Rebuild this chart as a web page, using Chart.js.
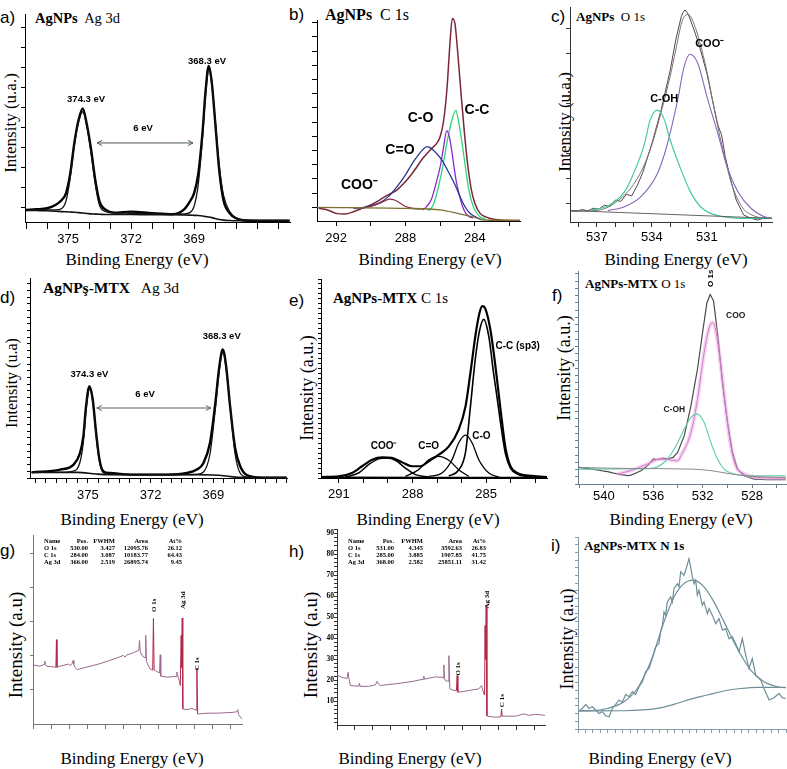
<!DOCTYPE html>
<html>
<head>
<meta charset="utf-8">
<title>XPS spectra of AgNPs and AgNPs-MTX</title>
<script src="https://cdn.jsdelivr.net/npm/chart.js@4.4.1/dist/chart.umd.min.js"></script>
<style>
  html, body { margin: 0; padding: 0; background: #fff; }
  body { position: relative; width: 787px; height: 769px; overflow: hidden; }
  canvas { position: absolute; }
  .txt { position: absolute; white-space: nowrap; color: #000; line-height: 1; }
  .let { font: 17px "Liberation Sans", Arial, sans-serif; transform: translateY(-50%); }
  .ttl { font-family: "Liberation Serif", "Times New Roman", serif; transform: translateY(-50%); }
  .ax { font-family: "Liberation Serif", "Times New Roman", serif; transform: translate(-50%, -50%); }
  .yax { font-family: "Liberation Serif", "Times New Roman", serif; transform: translate(-50%, -50%) rotate(-90deg); }
  .tab { position: absolute; font: bold 6.5px "Liberation Serif", serif; white-space: nowrap; line-height: 1; }
</style>
</head>
<body>

<div class="txt let" style="left:0;top:18px">a)</div>
<div class="txt let" style="left:289px;top:15px">b)</div>
<div class="txt let" style="left:551px;top:17px">c)</div>
<div class="txt let" style="left:0;top:298px">d)</div>
<div class="txt let" style="left:289px;top:301px">e)</div>
<div class="txt let" style="left:552px;top:296px">f)</div>
<div class="txt let" style="left:0;top:551px">g)</div>
<div class="txt let" style="left:289px;top:552px">h)</div>
<div class="txt let" style="left:551px;top:546px">i)</div>

<div class="txt ttl" style="left:35px;top:18px;font-size:14.5px"><b>AgNPs</b>&nbsp; Ag 3d</div>
<div class="txt ttl" style="left:325px;top:15px;font-size:16px"><b>AgNPs</b>&nbsp; C 1s</div>
<div class="txt ttl" style="left:576px;top:16px;font-size:13px"><b>AgNPs</b>&nbsp; O 1s</div>
<div class="txt ttl" style="left:43px;top:288px;font-size:15.5px"><b>AgNPş-MTX</b>&nbsp;&nbsp; Ag 3d</div>
<div class="txt ttl" style="left:333px;top:298px;font-size:15px"><b>AgNPs-MTX</b> C 1s</div>
<div class="txt ttl" style="left:585px;top:283px;font-size:13px"><b>AgNPs-MTX</b> O 1s</div>
<div class="txt ttl" style="left:584px;top:545px;font-size:13px"><b>AgNPs-MTX N 1s</b></div>

<div class="txt yax" style="left:10px;top:123px;font-size:17px">Intensity (u.a.)</div>
<div class="txt yax" style="left:564px;top:122px;font-size:17px">Intensity (u.a.)</div>
<div class="txt yax" style="left:12px;top:383px;font-size:16px">Intensity (u.a)</div>
<div class="txt yax" style="left:307px;top:388px;font-size:18px">Intensity (a.u.)</div>
<div class="txt yax" style="left:564px;top:368px;font-size:18px">Intensity (a.u.)</div>
<div class="txt yax" style="left:15px;top:645px;font-size:19px">Intensity (a.u)</div>
<div class="txt yax" style="left:310px;top:645px;font-size:19px">Intensity (a.u)</div>
<div class="txt yax" style="left:567px;top:639px;font-size:18px">Intensity (a.u)</div>

<div class="txt ax" style="left:137px;top:259px;font-size:17px">Binding Energy (eV)</div>
<div class="txt ax" style="left:430px;top:259px;font-size:17px">Binding Energy (eV)</div>
<div class="txt ax" style="left:676px;top:259px;font-size:17px">Binding Energy (eV)</div>
<div class="txt ax" style="left:132px;top:519px;font-size:17px">Binding Energy (eV)</div>
<div class="txt ax" style="left:428px;top:519px;font-size:17px">Binding Energy (eV)</div>
<div class="txt ax" style="left:681px;top:519px;font-size:17px">Binding Energy (eV)</div>
<div class="txt ax" style="left:132px;top:758px;font-size:17px">Binding Energy (eV)</div>
<div class="txt ax" style="left:410px;top:758px;font-size:17px">Binding Energy (eV)</div>
<div class="txt ax" style="left:660px;top:758px;font-size:17px">Binding Energy (eV)</div>

<canvas id="ca"></canvas>
<canvas id="cb"></canvas>
<canvas id="cc"></canvas>
<canvas id="cd"></canvas>
<canvas id="ce"></canvas>
<canvas id="cf"></canvas>
<canvas id="cg"></canvas>
<canvas id="ch"></canvas>
<canvas id="ci"></canvas>

<script>
// ---------- a) AgNPs Ag 3d ----------
const aE    = [377, 376.5, 376, 375.6, 375.3, 375.1, 374.9, 374.7, 374.5, 374.3, 374.1, 373.9, 373.7, 373.5, 373.2, 372.8, 372, 371, 370, 369.5, 369.2, 369, 368.8, 368.6, 368.45, 368.3, 368.15, 368, 367.8, 367.6, 367.3, 367, 366.5, 366, 365, 364.45];
const aRaw  = [5.8, 6.1, 6.6, 8.2, 10.6, 13.8, 23, 38, 49, 54.6, 46.6, 34.6, 20, 9.8, 5.8, 4.5, 5.0, 4.2, 3.7, 5.8, 9.8, 13.8, 23, 42.6, 63, 75, 66.7, 49, 25, 10.6, 4.2, 1.8, 0.6, 0.6, 0.6, 0.6];
const aFit  = [5.8, 5.8, 5.8, 5.8, 6.5, 10, 21, 37, 48, 53, 46, 33, 18, 8, 5, 4.4, 4.2, 4.0, 3.8, 3.9, 4.5, 7.5, 18, 40, 61, 73, 66, 50, 27, 13, 5, 2, 1, 0.8, 0.8, 0.8];
const aBase = [5.6, 5.5, 5.4, 5.2, 5.0, 4.9, 4.8, 4.7, 4.5, 4.3, 4.1, 3.9, 3.8, 3.7, 3.6, 3.6, 3.6, 3.5, 3.5, 3.4, 3.3, 3.2, 3.1, 2.9, 2.6, 2.4, 2.1, 1.7, 1.2, 0.9, 0.7, 0.6, 0.6, 0.6, 0.6, 0.6];

// ---------- b) AgNPs C 1s ----------
const bE    = [293, 292.5, 292, 291.5, 291, 290.5, 290, 289.5, 289, 288.5, 288, 287.5, 287, 286.5, 286.2, 286, 285.8, 285.6, 285.45, 285.3, 285.15, 285, 284.8, 284.6, 284.4, 284.2, 284, 283.7, 283.3, 283, 282.5, 281.4];
const bSum  = [6.3, 5.5, 3.8, 3.5, 4.6, 6.3, 8, 10.4, 13, 15.4, 19.6, 25, 31.2, 36, 38.6, 42, 50, 66.8, 86.7, 100.8, 98.3, 85, 63.5, 43.6, 27, 15.4, 8.8, 3.8, 1.8, 1.0, 0.5, 0.2];
const bCooE = [290.5, 290, 289.5, 289.2, 288.9, 288.6, 288.3, 288, 287.5, 287];
const bCoo  = [6.5, 7.2, 8.8, 10, 10.9, 10.3, 8.8, 7.2, 6.2, 6.0];
const bCdoE = [291, 290.5, 290, 289.5, 289, 288.5, 288, 287.5, 287, 286.77, 286.5, 286.2, 285.9, 285.5, 285.14, 284.85, 284.57, 284.3, 284, 283.6];
const bCdo  = [6.3, 6.6, 7.5, 9, 12, 17, 23, 30, 35.5, 37, 36, 33.5, 30.3, 24, 17.9, 12, 7.1, 4, 2.2, 0.5];
const bCoE  = [287, 286.8, 286.5, 286.2, 286, 285.8, 285.62, 285.45, 285.3, 285.1, 284.9, 284.7, 284.5, 284.3, 284.1];
const bCo   = [5.5, 7, 11, 20, 27, 37, 45, 41, 33, 21, 13, 7, 3.5, 2, 1.5];
const bCcE  = [286.7, 286.4, 286.1, 285.85, 285.62, 285.33, 285.1, 284.95, 284.76, 284.55, 284.38, 284.2, 284, 283.7, 283.4];
const bCc   = [5, 8, 17, 27, 38.6, 50, 55, 50, 40, 27, 17, 10, 5.5, 2, 1];
const bBgE  = [293.1, 288, 286, 285, 284, 283.5, 281.4];
const bBg   = [6.8, 6.3, 5.5, 3.8, 1.8, 0.5, 0.3];

// ---------- c) AgNPs O 1s ----------
const cRawE = [538.4, 538.1, 537.8, 537.5, 537.2, 536.9, 536.6, 536.3, 536, 535.7, 535.4, 535.1, 534.8, 534.5, 534, 533.5, 533, 532.7, 532.4, 532.3, 532.2, 532.1, 532, 531.7, 531.4, 531, 530.7, 530.4, 530.2, 530, 529.7, 529.4, 529, 528.6, 528.2, 527.8, 527.45];
const cRaw  = [5.3, 5.0, 5.8, 5.2, 6.4, 6.0, 7.8, 7.2, 10.2, 9.6, 12.8, 12.2, 17, 23, 36.6, 52, 70.7, 84.7, 95.5, 97.5, 98.6, 97.8, 96.3, 89.3, 81.6, 69, 56.7, 45, 40.5, 30.4, 19.5, 10.2, 3.3, 1.7, 0.9, 2.2, 1.7];
const cFitE = [538.4, 537, 536.5, 536, 535.5, 535, 534.5, 534, 533.5, 533, 532.7, 532.4, 532.2, 532, 531.7, 531.4, 531, 530.7, 530.4, 530, 529.7, 529.4, 529, 528.6, 528.2, 527.8, 527.45];
const cFit  = [5.0, 5.4, 6.5, 9, 12.5, 17.5, 25, 36, 51, 68, 80, 92, 96, 96.5, 92, 84, 70, 57, 44, 29, 19, 12, 6, 3.5, 2.2, 1.8, 1.6];
const cCooE = [536.4, 535.5, 534.6, 533.7, 533.2, 532.6, 532.25, 531.93, 531.5, 531.0, 530.4, 529.9, 529.3, 528.6, 527.9, 527.45];
const cCoo  = [5.3, 7.1, 11.8, 22.6, 35, 56.7, 72, 78, 73.8, 58.3, 41, 25.7, 14, 6.4, 2.5, 1.7];
const cOhE  = [537.35, 536.4, 535.5, 535.0, 534.4, 534.1, 533.71, 533.35, 533.0, 532.4, 531.9, 531.35, 530.8, 530.1, 529.2, 527.45];
const cOh   = [5.6, 7.4, 14, 22.6, 36.6, 47.4, 52, 48.2, 38, 24, 14, 7.1, 4, 2.5, 1.7, 1.7];
const cBgE  = [538.4, 527.45];
const cBg   = [5.3, 1.7];

// ---------- d) AgNPs-MTX Ag 3d ----------
const dE    = [377.68, 376.32, 375.68, 375.37, 375.21, 375.08, 374.92, 374.76, 374.6, 374.44, 374.25, 373.93, 372.82, 371.23, 370.27, 369.79, 369.47, 369.16, 368.92, 368.71, 368.55, 368.39, 368.2, 367.96, 367.72, 367.4, 366.69, 365.5];
const dRaw  = [2.8, 4.2, 6.7, 12.5, 20.9, 36, 45.9, 39, 22.5, 9.2, 3.3, 2.5, 1.7, 1.7, 2.5, 4.2, 7.5, 17.5, 36, 56, 64.3, 56, 36, 15, 6, 1.5, 0.2, 0.2];
const dFit  = [2.8, 2.8, 3.5, 8, 18, 34, 44.5, 38, 21, 8, 2.5, 1.8, 1.7, 1.7, 1.7, 1.8, 3, 12, 33, 54, 63, 55, 36, 12, 2.5, 0.5, 0.3, 0.3];
const dBgE  = [377.68, 375.5, 374.6, 374.0, 369.8, 369.0, 368.4, 367.8, 365.5];
const dBg   = [2.8, 2.8, 2.0, 1.7, 1.7, 1.5, 1.0, 0.3, 0.0];

// ---------- e) AgNPs-MTX C 1s ----------
const eSumE = [291.69, 291.01, 290.47, 290.06, 289.65, 289.24, 288.84, 288.43, 288.02, 287.68, 287.34, 286.93, 286.52, 286.12, 285.84, 285.64, 285.44, 285.27, 285.16, 285.03, 284.82, 284.62, 284.41, 284.21, 284.01, 283.73, 283.46, 282.9, 282.52];
const eSum  = [0.5, 0.8, 2.5, 5.9, 9.2, 10.4, 10.1, 7.9, 5.9, 5.9, 8.4, 11.7, 15.9, 24.3, 36, 52.9, 71.3, 83, 86.4, 85, 74, 56, 34, 15, 6, 2.5, 1.5, 0.8, 0.5];
const eCcE  = [286.52, 286.12, 285.84, 285.64, 285.44, 285.27, 285.1, 284.89, 284.69, 284.55, 284.37, 284.21, 284.01, 283.73, 283.46, 282.52];
const eCc   = [1, 4, 13, 36, 60, 74, 79.7, 71, 52, 40, 24, 12, 5, 2, 1, 0.3];
const eCoE  = [287.34, 286.8, 286.39, 286.12, 285.84, 285.57, 285.3, 284.89, 284.48];
const eCo   = [0.8, 2.5, 9.2, 17.6, 21.5, 17.6, 9.2, 2.5, 0.5];
const eCdoE = [288.29, 287.75, 287.34, 286.93, 286.52, 286.12, 285.71];
const eCdo  = [0.8, 4.2, 9.2, 10.9, 8.9, 4.2, 0.8];
const eCooE = [290.74, 290.2, 289.79, 289.38, 289.04, 288.7, 288.29, 287.88, 287.34];
const eCoo  = [0.5, 2.5, 6.7, 9.6, 10, 8.9, 5, 1.7, 0.5];
const eBgE  = [291.73, 282.52];
const eBg   = [0.4, 0.2];

// ---------- f) AgNPs-MTX O 1s ----------
const fRawE = [542.06, 541.04, 540.5, 540.0, 539.69, 539.3, 538.88, 538.5, 538.07, 537.8, 537.27, 537.0, 536.46, 536.0, 535.65, 535.2, 534.84, 534.4, 534.03, 533.49, 532.95, 532.42, 532.01, 531.66, 531.39, 531.12, 530.8, 530.4, 529.99, 529.59, 529.18, 528.64, 527.83, 526.75, 525.27];
const fRaw  = [7.8, 7, 6.6, 6.0, 5.8, 5.2, 4.7, 4.3, 3.9, 4.2, 5.5, 6.2, 8.6, 11.8, 11.4, 12.2, 11.7, 12.5, 14.8, 22.7, 36.7, 54, 71, 85, 89, 86, 71, 47.7, 29, 14.8, 7, 3.9, 2.3, 2, 2];
const fCooE = [538.88, 537.81, 536.46, 535.52, 534.71, 534.03, 533.76, 532.95, 532.42, 531.88, 531.47, 531.2, 530.93, 530.53, 530.13, 529.72, 529.32, 528.64, 527.56, 525.27];
const fCoo  = [4.7, 6.3, 9.4, 11.7, 11.4, 10.9, 13.3, 24.2, 39.8, 61.7, 73.4, 75.8, 71.9, 55.5, 35.2, 18, 8.6, 4.7, 3.1, 2.7];
const fOhE  = [542.06, 536.19, 535.11, 534.3, 533.49, 532.95, 532.42, 531.88, 531.34, 530.8, 530.26, 529.45, 528.64, 525.27];
const fOh   = [7, 7.3, 10.2, 16.4, 25.8, 31.3, 32.8, 28.9, 19.5, 11.7, 7, 4.7, 3.9, 3.9];
const fBgE  = [542.06, 538.07, 532.95, 531.34, 529.72, 527.56, 525.27];
const fBg   = [7.8, 7.3, 7, 6.3, 4.7, 3.4, 3.1];

// ---------- g) AgNPs survey ----------
const gE = [1203, 1165, 1140, 1137, 1134, 1128, 1081, 1075, 1072, 1069, 1053, 1006, 993, 985, 979, 975, 969, 956, 829, 735, 698, 689, 679, 642, 612, 608, 604, 595, 577, 573, 569, 549, 534, 530, 526, 520, 496, 492, 489, 455, 403, 399, 394, 386, 380, 375, 372, 369, 366, 343, 315, 306, 291, 287, 283, 231, 156, 81, 63, 59, 54, 35];
const gI = [31.3, 30.6, 31.5, 33.3, 31.5, 30.6, 30.1, 30, 44.6, 30, 30.6, 31.7, 31, 31.9, 33.6, 31.5, 30, 28.8, 31.9, 34.9, 36.3, 35.4, 36.5, 37.7, 38.9, 44.2, 38.6, 36.3, 35, 46.9, 33, 29.2, 28.5, 55.8, 28.5, 28.3, 27, 36.6, 25.3, 24.8, 25.2, 27.5, 25.5, 23, 20.4, 46.9, 30, 56.1, 8, 7.6, 8.3, 7.8, 7.4, 29.6, 5.3, 5.7, 5.8, 6.2, 6.5, 7.6, 4.8, 2.7];
const gTable = [
  ['Name', 'Pos.', 'FWHM', 'Area', 'At%'],
  ['O 1s', '530.00', '3.427', '12095.76', '26.12'],
  ['C 1s', '284.00', '3.087', '10183.77', '64.43'],
  ['Ag 3d', '366.00', '2.519', '26895.74', '9.45']
];

// ---------- h) AgNPs-MTX survey ----------
const hE = [1200, 1172, 1144, 1138, 1133, 1125, 1079, 1075, 1071, 1023, 986, 976, 967, 958, 874, 781, 720, 716, 712, 688, 651, 614, 608, 604, 601, 595, 580, 576, 571, 548, 534, 530, 526, 521, 465, 409, 394, 381, 377, 374, 372, 368, 364, 361, 316, 286, 282, 279, 204, 158, 130, 92, 40];
const hI = [22.5, 21.4, 20.8, 23.8, 20.6, 17.5, 17.1, 18.6, 17.1, 17.1, 17.8, 19.4, 18, 17.5, 18.3, 19.4, 20.5, 22, 20.5, 21, 21.6, 21.4, 21, 27.3, 21, 19.8, 19.5, 31.7, 16, 15.1, 15, 22.2, 14.3, 14.3, 15.1, 15.9, 17.5, 13.5, 13, 46, 30, 55, 3, 2.9, 2.4, 2.6, 6.3, 2.9, 2.9, 4, 3.3, 3.8, 3.3];
const hTable = [
  ['Name', 'Pos.', 'FWHM', 'Area', 'At%'],
  ['O 1s', '531.00', '4.345', '3592.63', '26.83'],
  ['C 1s', '285.00', '3.885', '1907.85', '41.75'],
  ['Ag 3d', '368.00', '2.582', '25851.11', '31.42']
];
const hYLabels = [10, 20, 30, 40, 50, 60, 70, 80, 90];

// labelled survey peaks drawn in red
const redPeaks = [1072, 530, 372, 285];

// ---------- i) AgNPs-MTX N 1s ----------
const iRawE = [407.93, 407.71, 407.48, 407.26, 407.04, 406.81, 406.59, 406.36, 406.14, 405.91,
               405.69, 405.46, 405.24, 405.02, 404.79, 404.57, 404.34, 404.12, 403.89, 403.67,
               403.45, 403.22, 403.0, 402.77, 402.55, 402.44, 402.32, 402.21, 402.1, 401.99,
               401.76, 401.65, 401.54, 401.31, 401.2, 401.09, 400.87, 400.75, 400.53, 400.42,
               400.3, 400.19, 400.08, 399.97, 399.86, 399.63, 399.52, 399.29, 399.18, 398.96,
               398.73, 398.51, 398.28, 398.06, 397.84, 397.61, 397.39, 397.16, 396.94, 396.71,
               396.49, 396.27, 396.04, 395.7, 395.48, 395.14, 394.81, 394.47, 394.25, 394.02];
const iRaw  = [9.4, 10.7, 12.8, 10.7, 11.6, 9.9, 8.1, 9, 6.9, 6.4,
               10.7, 12.8, 15.1, 13.9, 18, 16.8, 19.4, 18, 22, 24.6,
               29.8, 31.5, 36.7, 42.8, 44.5, 50.6, 54, 61, 59.3, 66.2,
               68.8, 66.2, 73.1, 75.7, 74, 81.8, 80, 82.7, 88.7, 84.4,
               79.2, 75.7, 77.5, 69.7, 72.3, 64.5, 66.2, 60.1, 62.7, 59.3,
               54.9, 57.5, 51.5, 52.3, 47.1, 48, 44.5, 40.2, 47.1, 38.5,
               31.5, 36.7, 28.1, 25.5, 21.1, 15.1, 16.3, 18.5, 16.3, 15.9];
const iFitE = [407.93, 407.15, 406.03, 404.9, 404.01, 403.11, 402.21, 401.54, 400.87, 400.19, 399.52, 398.85, 398.17, 397.28, 396.38, 395.48, 394.58, 394.02];
const iFit  = [9.4, 9.5, 10.7, 14.2, 21.1, 35, 55.8, 68.8, 75.7, 77.5, 74, 66.2, 55.8, 41.9, 30.7, 24.6, 22, 21.5];
const iBgE  = [407.93, 404.9, 402.66, 401.54, 400.42, 399.29, 398.17, 397.05, 395.93, 394.02];
const iBg   = [9.4, 9.5, 10.7, 12.8, 15.6, 17.7, 19.8, 21.1, 21.7, 21.7];

// ---------- helpers ----------
Chart.defaults.font.family = 'Liberation Sans';

function steps(a, b, s) {
  const out = [];
  const dir = b >= a ? 1 : -1;
  for (let v = a; dir * (b - v) >= -1e-9; v += dir * s) out.push(Math.round(v * 1000) / 1000);
  return out;
}

function line(E, V, color, w, more) {
  return Object.assign({
    data: E.map((x, i) => ({ x: x, y: V[i] })),
    borderColor: color, borderWidth: w, pointRadius: 0, fill: false, clip: false,
    cubicInterpolationMode: 'monotone'
  }, more || {});
}
const sharp = { cubicInterpolationMode: 'default', tension: 0 };

function notesPlugin(list) {
  return {
    id: 'notes',
    afterDatasetsDraw(chart) {
      const c = chart.ctx, sx = chart.scales.x, sy = chart.scales.y;
      c.save();
      list.forEach(n => {
        const py = sy.getPixelForValue(n.y);
        if (n.arrow) {
          const x1 = sx.getPixelForValue(n.arrow[0]), x2 = sx.getPixelForValue(n.arrow[1]);
          c.strokeStyle = n.c; c.lineWidth = 1;
          c.beginPath();
          c.moveTo(x1, py); c.lineTo(x2, py);
          c.moveTo(x1 + 5, py - 2.5); c.lineTo(x1, py); c.lineTo(x1 + 5, py + 2.5);
          c.moveTo(x2 - 5, py - 2.5); c.lineTo(x2, py); c.lineTo(x2 - 5, py + 2.5);
          c.stroke();
          return;
        }
        const px = sx.getPixelForValue(n.x);
        c.font = n.f;
        c.fillStyle = n.c || '#000';
        c.textAlign = n.a || 'center';
        c.textBaseline = 'middle';
        c.save();
        c.translate(px, py);
        if (n.r) c.rotate(n.r * Math.PI / 180);
        c.fillText(n.t, 0, 0);
        c.restore();
      });
      c.restore();
    }
  };
}

const LM = 46, TM = 14, RM = 10, BM = 34;

// box = [axis x, top y, right x, axis y] in page pixels
function panel(id, box, xr, yr, sets, o) {
  const cv = document.getElementById(id);
  cv.width = box[2] - box[0] + LM + RM;
  cv.height = box[3] - box[1] + TM + BM;
  cv.style.left = (box[0] - LM) + 'px';
  cv.style.top = (box[1] - TM) + 'px';
  const ink = o.ink || '#000';
  const xl = o.xlab || [], yl = o.ylab || [];
  const has = (arr, v) => arr.some(l => Math.abs(l - v) < 1e-6);
  return new Chart(cv, {
    type: 'line',
    data: { datasets: sets },
    options: {
      responsive: false, animation: false, events: [],
      layout: { padding: { top: TM, right: RM, left: 0, bottom: 0 } },
      plugins: { legend: { display: false }, tooltip: { enabled: false } },
      scales: {
        x: {
          type: 'linear', reverse: true, min: Math.min(xr[0], xr[1]), max: Math.max(xr[0], xr[1]),
          afterFit: s => { s.height = BM; },
          afterBuildTicks: s => { s.ticks = o.xt.map(v => ({ value: v })); },
          border: { color: ink, width: 1 },
          grid: { drawOnChartArea: false, tickLength: o.xtl || 5, color: ink },
          ticks: {
            display: xl.length > 0, autoSkip: false, maxRotation: 0, padding: o.xpad || 3, color: '#000',
            font: { family: 'Liberation Sans', size: 13 },
            callback: v => has(xl, v) ? String(v) : ''
          }
        },
        y: {
          type: 'linear', min: yr[0], max: yr[1],
          afterFit: s => { s.width = LM; },
          afterBuildTicks: s => { s.ticks = o.yt.map(v => ({ value: v })); },
          border: { color: ink, width: 1 },
          grid: { drawOnChartArea: false, tickLength: o.ytl || 4, color: ink },
          ticks: {
            display: yl.length > 0, autoSkip: false, padding: 0, color: '#000',
            font: { family: 'Liberation Serif', size: 7.5, weight: 'bold' },
            callback: v => has(yl, v) ? String(v) : ''
          }
        }
      }
    },
    plugins: [notesPlugin(o.notes || [])]
  });
}

const lab = 'bold 9.5px "Liberation Sans"';
const big = 'bold 14px "Liberation Sans"';

// a)
panel('ca', [25, 14, 290, 222], [377.05, 364.43], [0, 100], [
  line(aE, aBase, '#111', 1.6),
  line(aE, aFit, '#111', 1.3),
  line(aE, aRaw, '#000', 2.4)
], {
  xt: steps(377, 365, 1), xlab: [375, 372, 369], yt: steps(7.2, 98, 9.6), xtl: 7, xpad: 3,
  notes: [
    { x: 374.14, y: 59, t: '374.3 eV', f: lab },
    { x: 368.38, y: 77.4, t: '368.3 eV', f: lab },
    { x: 371.43, y: 45.2, t: '6 eV', f: lab },
    { arrow: [373.62, 369.05], y: 38, c: '#4d5a55' }
  ]
});

// b)
panel('cb', [317, 20, 520, 221], [293.1, 281.4], [0, 100], [
  line(bBgE, bBg, '#7a7030', 1.3),
  line(bCooE, bCoo, '#8c2a4a', 1.2),
  line(bCdoE, bCdo, '#2a3590', 1.3),
  line(bCoE, bCo, '#8a2ad0', 1.3),
  line(bCcE, bCc, '#2ed47a', 1.3),
  line(bE, bSum, '#7a2838', 1.5)
], {
  xt: steps(292, 282, 2), xlab: [292, 288, 284], yt: steps(6.8, 99, 7.07), xtl: 5, xpad: 5, ytl: 5,
  notes: [
    { x: 290.66, y: 17.9, t: 'COO⁻', f: big },
    { x: 288.32, y: 35.3, t: 'C=O', f: big },
    { x: 287.13, y: 51, t: 'C-O', f: big },
    { x: 283.88, y: 55.2, t: 'C-C', f: big }
  ]
});

// c)
panel('cc', [570, 7, 772, 222], [538.47, 527.45], [0, 100], [
  line(cBgE, cBg, '#555', 0.9),
  line(cOhE, cOh, '#44cc99', 1.2),
  line(cCooE, cCoo, '#8866bb', 1.1),
  line(cFitE, cFit, '#777', 1),
  line(cRawE, cRaw, '#5a4050', 1, sharp)
], {
  xt: steps(538, 528, 1), xlab: [537, 534, 531], yt: steps(8.7, 95, 11.6), xtl: 5, xpad: 3, ink: '#333',
  notes: [
    { x: 533.33, y: 57, t: 'C-OH', f: 'bold 11px "Liberation Sans"' },
    { x: 530.85, y: 83, t: 'COO⁻', f: 'bold 11px "Liberation Sans"' }
  ]
});

// d)
panel('cd', [30, 278, 287, 478], [377.76, 365.48], [0, 100], [
  line(dBgE, dBg, '#111', 1.6),
  line(dE, dFit, '#111', 1.3),
  line(dE, dRaw, '#000', 2.4)
], {
  xt: steps(377.5, 365.5, 0.5), xlab: [375, 372, 369], yt: steps(0, 100, 3.35), xtl: 5, xpad: 5, ytl: 3,
  notes: [
    { x: 374.92, y: 52, t: '374.3 eV', f: lab },
    { x: 368.6, y: 71, t: '368.3 eV', f: lab },
    { x: 372.26, y: 41.7, t: '6 eV', f: lab },
    { arrow: [374.57, 369.12], y: 35, c: '#56665e' }
  ]
});

// e)
panel('ce', [321, 279, 547, 478], [291.73, 282.52], [0, 100], [
  line(eBgE, eBg, '#000', 1.5),
  line(eCooE, eCoo, '#000', 1.5),
  line(eCdoE, eCdo, '#000', 1.3),
  line(eCoE, eCo, '#000', 1.3),
  line(eCcE, eCc, '#000', 1.6),
  line(eSumE, eSum, '#000', 2.2)
], {
  xt: steps(291, 283, 1), xlab: [291, 288, 285], yt: steps(0, 100, 2.5), xtl: 5, xpad: 4, ytl: 3,
  notes: [
    { x: 289.18, y: 16, t: 'COO⁻', f: 'bold 10px "Liberation Sans"' },
    { x: 287.34, y: 16, t: 'C=O', f: 'bold 10px "Liberation Sans"' },
    { x: 285.57, y: 21, t: 'C-O', f: 'bold 10px "Liberation Sans"', a: 'left' },
    { x: 284.62, y: 66.3, t: 'C-C (sp3)', f: 'bold 10px "Liberation Sans"', a: 'left' }
  ]
});

// f)
panel('cf', [578, 271, 786, 484], [542.1, 525.25], [0, 100], [
  line(fBgE, fBg, '#8a8a8a', 1),
  line(fOhE, fOh, '#5fd0a8', 1.1),
  line(fCooE, fCoo, 'rgba(235,160,225,0.45)', 4),
  line(fCooE, fCoo, '#c060c0', 1),
  line(fRawE, fRaw, '#4a4a4a', 1.2, sharp)
], {
  xt: steps(542, 526, 2), xlab: [540, 536, 532, 528], yt: steps(0, 100, 3.4), xtl: 4, xpad: 1, ytl: 3, ink: '#6f7f8f',
  notes: [
    { x: 531.34, y: 96.6, t: 'O 1s', f: 'bold 8px "Liberation Sans"', r: -90 },
    { x: 529.32, y: 79, t: 'COO', f: 'bold 8.5px "Liberation Sans"', c: '#222' },
    { x: 534.3, y: 35, t: 'C-OH', f: 'bold 8.5px "Liberation Sans"', c: '#222' }
  ]
});

// survey lines: segments rising into a labelled peak are red
const spikeRed = {
  segment: {
    borderColor: c => {
      const mid = (c.p0.parsed.x + c.p1.parsed.x) / 2;
      const near = redPeaks.some(p => Math.abs(p - mid) < 7);
      return near && Math.abs(c.p1.parsed.y - c.p0.parsed.y) > 2.5 ? '#b02848' : undefined;
    }
  }
};

// g)
panel('cg', [33, 535, 242, 724], [1203, 35], [0, 100], [
  line(gE, gI, '#9a6a8c', 1, Object.assign({}, sharp, spikeRed))
], {
  xt: steps(1200, 100, 100), yt: [18, 36, 54, 72, 90], xtl: 5, ytl: 3, ink: '#777',
  notes: [
    { x: 526, y: 62.8, t: 'O 1s', f: 'bold 7px "Liberation Serif"', r: -90 },
    { x: 365.4, y: 65.5, t: 'Ag 3d', f: 'bold 7px "Liberation Serif"', r: -90 },
    { x: 283, y: 31.9, t: 'C 1s', f: 'bold 7px "Liberation Serif"', r: -90 }
  ]
});

// h)
panel('ch', [337, 529, 545, 725], [1200, 40], [-1.3, 92], [
  line(hE, hI, '#9a6a8c', 1, Object.assign({}, sharp, spikeRed))
], {
  xt: steps(1200, 100, 100), yt: steps(0, 92, 2), ylab: hYLabels, xtl: 5, ytl: 3, ink: '#333',
  notes: [
    { x: 524, y: 25.4, t: 'O 1s', f: 'bold 7px "Liberation Serif"', r: -90 },
    { x: 362.4, y: 58.4, t: 'Ag 3d', f: 'bold 7px "Liberation Serif"', r: -90 },
    { x: 278.7, y: 10.3, t: 'C 1s', f: 'bold 7px "Liberation Serif"', r: -90 }
  ]
});

// i)
panel('ci', [578, 537, 786, 729], [408, 394], [0, 100], [
  line(iBgE, iBg, '#6f8f98', 1.2),
  line(iFitE, iFit, '#6f8f98', 1.2),
  line(iRawE, iRaw, '#6f8f98', 1.2, sharp)
], {
  xt: steps(408, 394, 0.5), yt: steps(0, 100, 4), xtl: 4, ytl: 3, ink: '#8a9aa2'
});

// composition tables (g and h)
function table(rows, nameX, rights) {
  const rowY = [541, 548, 555, 562];
  rows.forEach((r, i) => {
    r.forEach((s, j) => {
      const d = document.createElement('div');
      d.className = 'tab';
      d.textContent = s;
      d.style.top = (rowY[i] - 3) + 'px';
      if (j === 0) d.style.left = nameX + 'px';
      else d.style.right = (787 - rights[j - 1]) + 'px';
      document.body.appendChild(d);
    });
  });
}
table(gTable, 44, [88, 115, 148, 182]);
table(hTable, 348, [394, 423, 462, 486]);
</script>
</body>
</html>
